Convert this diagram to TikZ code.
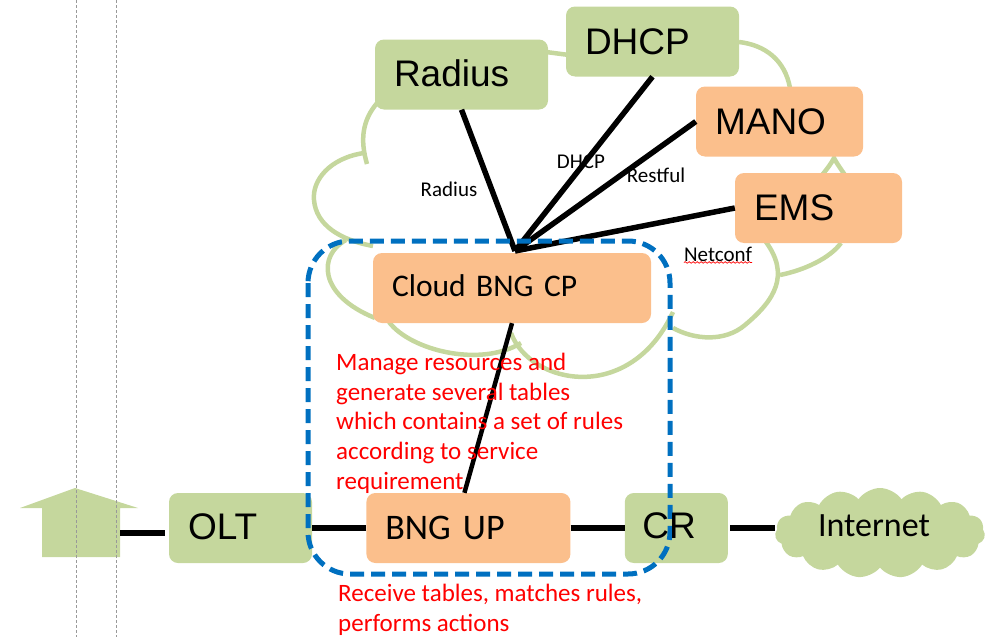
\documentclass[tikz,border=0pt]{standalone}
\usepackage{fontspec}
\setmainfont{Liberation Sans}
\newfontfamily\carlito{Carlito}
\usepackage{xcolor}
\usetikzlibrary{positioning,calc,shapes.symbols,decorations.pathmorphing}
\definecolor{leaf}{HTML}{C5D79D}
\definecolor{peach}{HTML}{FBBF8C}
\definecolor{dashblue}{HTML}{0070C0}
\begin{document}
\begin{tikzpicture}
  [
  x=1pt,y=-1pt,
  greenbox/.style={rectangle,fill=leaf,rounded corners=9pt,minimum height=70pt,inner xsep=19pt,inner ysep=0pt,align=left,font=\fontsize{37}{40}\selectfont},
  peachbox/.style={greenbox,fill=peach},
  cloudline/.style={draw=leaf,line width=4.5pt},
  link/.style={draw=black,line width=5.5pt},
  tag/.style={inner sep=0pt,font=\carlito\fontsize{21}{24}\selectfont},
  note/.style={inner sep=0pt,anchor=north west,align=left,text=red,font=\carlito\fontsize{25}{29.7}\selectfont},
  guide/.style={draw=gray!80,densely dashed,line width=0.8pt}
  ]
  \useasboundingbox (0,0) rectangle (985,637);
  % cloud behind the servers
  \draw[cloudline] (378,102) .. controls (362,120) and (360,140) .. (367,164);
  \draw[cloudline] (364,153) .. controls (330,158) and (312,180) .. (314,200) .. controls (316,225) and (340,240) .. (373,246);
  \draw[cloudline] (346,240) .. controls (318,255) and (318,295) .. (375,318);
  \draw[cloudline] (389,322) .. controls (410,350) and (480,368) .. (521,343);
  \draw[cloudline] (511,333) .. controls (530,385) and (630,405) .. (673,312);
  \draw[cloudline] (673,328) .. controls (695,340) and (725,342) .. (745,325) .. controls (775,300) and (790,275) .. (766,242);
  \draw[cloudline] (780,275) .. controls (805,270) and (830,258) .. (841,243);
  \draw[cloudline] (822,175) .. controls (828,168) and (832,162) .. (834,158) .. controls (836,162) and (840,168) .. (845,175);
  \draw[cloudline] (739,42) .. controls (765,45) and (785,60) .. (790,88);
  \draw[cloudline] (546,52) -- (569,55);
  % home
  \fill[leaf] (75,488) -- (138,508) -- (120,508) -- (120,557) -- (42,557) -- (42,508) -- (20,508) -- cycle;
  \coordinate (home) at (120,533);
  \draw[guide] (76,0) -- (76,637);
  \draw[guide] (116,0) -- (116,637);
  % servers
  \node[greenbox,text width=135pt] (radius) at (461.5,74.5) {\raisebox{2pt}{Radius}};
  \node[greenbox,text width=135pt] (dhcp) at (652.5,41.5) {DHCP};
  \node[peachbox,text width=129pt] (mano) at (779.5,121.5) {MANO};
  \node[peachbox,text width=129pt] (ems) at (818.5,208) {EMS};
  \node[peachbox,text width=240pt,font=\carlito\fontsize{31.5}{34}\selectfont] (cp) at (512,288) {\raisebox{5pt}{Cloud BNG CP}};
  % access line
  \node[greenbox,text width=105pt] (olt) at (240.5,528) {\raisebox{2pt}{OLT}};
  \node[peachbox,text width=166pt,font=\carlito\fontsize{36}{38}\selectfont] (up) [right = 54pt of olt] {BNG UP};
  \node[greenbox,minimum width=103pt,inner xsep=0pt] (cr) [right = 54pt of up] {};
  \node[cloud,fill=leaf,cloud puffs=15,cloud puff arc=110,aspect=2.2,inner sep=0pt,minimum width=210pt,minimum height=90pt,font=\carlito\fontsize{34}{36}\selectfont] (internet) at (880,533) {\hspace{-12pt}\raisebox{14pt}{Internet}};
  \coordinate (hub) at (515,251);
  \draw[link] (radius.south) -- (hub);
  \draw[link] (dhcp.south) -- (hub);
  \draw[link] (mano.west) -- (hub);
  \draw[link] (ems.west) -- (hub);
  \draw[link,line width=4.5pt] (cp.south) -- ($(up.north)+(-4,0)$);
  \draw[link] (home) -- ($(home -| olt.west)+(-4,0)$);
  \draw[link] (olt) -- (up);
  \draw[link] (up) -- (cr);
  \draw[link] ($(cr.east)+(2,0)$) -- (cr.east -| internet.west);
  % the dashed frame goes over the boxes, under the CR text
  \draw[dashblue,line width=5pt,dash pattern=on 14pt off 7pt,rounded corners=42pt] (308,241) rectangle (670,574);
  \node[inner sep=0pt,font=\fontsize{37}{40}\selectfont] (crtext) at (669,526) {CR};
  % protocols
  \node[tag] (radiustag) at (449,189) {Radius};
  \node[tag] (dhcptag) at (581,162) {DHCP};
  \node[tag] (restfultag) at (656,175) {Restful};
  \node[tag] (netconftag) at (718,254) {Netconf};
  \draw[red,line width=0.7pt,decorate,decoration={snake,amplitude=0.8pt,segment length=4pt}] ($(netconftag.south west)+(0,1)$) -- ($(netconftag.south east)+(0,1)$);
  % roles
  \node[note] (cpnote) at (336,353) {Manage resources and\\generate several tables\\which contains a set of rules\\according to service\\requirement};
  \node[note] (upnote) at (338,584) {Receive tables, matches rules,\\performs actions};
\end{tikzpicture}
\end{document}
